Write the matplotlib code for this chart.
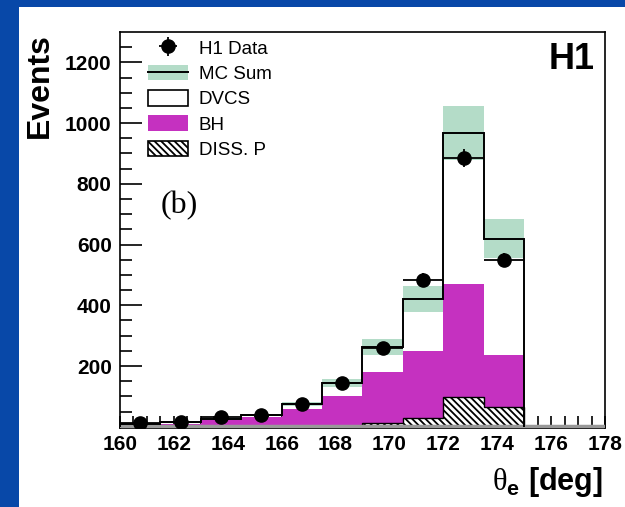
import numpy as np
import matplotlib
matplotlib.use('Agg')
import matplotlib.pyplot as plt
from matplotlib.patches import Patch, Rectangle
from matplotlib.lines import Line2D

plt.rcParams['font.family'] = ['Liberation Sans', 'DejaVu Sans']
plt.rcParams['mathtext.fontset'] = 'custom'
plt.rcParams['mathtext.rm'] = 'Liberation Serif'
plt.rcParams['mathtext.bf'] = 'Liberation Sans:bold'
plt.rcParams['hatch.linewidth'] = 1.3

# theta_e bins [deg]
bin_edges = [160, 161.5, 163, 164.5, 166, 167.5, 169, 170.5, 172, 173.5, 175]
bin_centers = [160.75, 162.25, 163.75, 165.25, 166.75, 168.25, 169.75, 171.25, 172.75, 174.25]

# H1 data
data = [13, 16, 33, 38, 75, 145, 258, 483, 885, 549]
data_err = [4, 4, 6, 6, 9, 12, 16, 22, 30, 23]

# MC
mc_sum = [8, 16, 27, 38, 75, 145, 263, 420, 967, 620]
mc_err = [1, 2, 3, 4, 8, 13, 26, 42, 88, 65]
bh = [3, 10, 22, 33, 57, 100, 167, 220, 373, 173]
diss = [0, 0, 0, 0, 0, 0, 13, 30, 97, 64]

green = '#b4dcc8'
magenta = '#c531c0'

fig = plt.figure(figsize=(6.25, 5.07), dpi=100)
fig.patch.set_facecolor('#0848a8')
fig.patches.append(Rectangle((19 / 625, 0), 1, 1 - 7 / 507, transform=fig.transFigure,
                             facecolor='white', edgecolor='none', zorder=-5))

ax = fig.add_axes([120 / 625, 1 - 428 / 507, 485 / 625, 396 / 507])
ax.set_zorder(2)
ax.patch.set_alpha(0)

edges = np.array(bin_edges)
mc = np.array(mc_sum)
err = np.array(mc_err)
bh_top = np.array(bh) + np.array(diss)

# MC uncertainty band
ax.stairs(mc + err, edges, baseline=mc - err, fill=True, color=green, zorder=1)
# BH (stacked on diss. p)
ax.stairs(bh_top, edges, fill=True, color=magenta, zorder=2)
# proton dissociation
ax.stairs(diss, edges, fill=True, facecolor='white', edgecolor='k', hatch='\\\\\\\\\\',
          linewidth=0, zorder=3)
ax.stairs(diss, edges, color='k', linewidth=1.0, zorder=3)
# bottom gray line
ax.axhline(1, color='#999999', linewidth=2.5, zorder=4)
# MC sum
ax.stairs(mc, edges, baseline=0, color='k', linewidth=1.4, zorder=5)

xerr = [(edges[i + 1] - edges[i]) / 2 for i in range(len(data))]
eb = ax.errorbar(bin_centers, data, yerr=data_err, xerr=xerr, fmt='o', color='k',
                 markersize=9.5, elinewidth=1.3, capsize=0, zorder=6)

ax.set_xlim(160, 178)
ax.set_ylim(-4, 1300)
ax.set_xticks(np.arange(160, 179, 2))
ax.set_xticks(np.arange(160, 178.1, 0.5), minor=True)
ax.set_yticks([200, 400, 600, 800, 1000, 1200])
ax.set_yticks(np.arange(50, 1300, 50), minor=True)
ax.tick_params(axis='both', which='both', direction='in', width=1.2, top=False, right=False)
ax.tick_params(axis='x', which='both', length=9, pad=5)
ax.tick_params(axis='y', which='major', length=16, pad=6)
ax.tick_params(axis='y', which='minor', length=8.5)
for lab in ax.get_xticklabels() + ax.get_yticklabels():
    lab.set_fontsize(15)
    lab.set_fontweight('bold')
for s in ax.spines.values():
    s.set_linewidth(1.2)

handles = [eb,
           (Patch(facecolor=green, edgecolor='none'), Line2D([], [], color='k', linewidth=1.4)),
           Patch(facecolor='white', edgecolor='k', linewidth=1.2),
           Patch(facecolor=magenta, edgecolor='none'),
           Patch(facecolor='white', edgecolor='k', hatch='\\\\\\\\\\', linewidth=1.2)]
labels = ['H1 Data', 'MC Sum', 'DVCS', 'BH', 'DISS. P']
ax.legend(handles, labels, loc='upper left', bbox_to_anchor=(0.035, 1.01), frameon=False,
          fontsize=13.5, handlelength=2.1, handleheight=0.9, labelspacing=0.38,
          handletextpad=0.6, borderaxespad=0.2)

ax.text(0.979, 0.975, 'H1', transform=ax.transAxes, ha='right', va='top',
        fontsize=26, fontweight='bold')
ax.text(161.5, 728, '(b)', ha='left', va='center', fontsize=23, family='Liberation Serif')

fig.text(40 / 625, 1 - 86 / 507, 'Events', rotation=90, ha='center', va='center',
         fontsize=23, fontweight='bold')
fig.text(603 / 625, 1 - 490 / 507, r'$\mathrm{\theta}_{\mathbf{e}}$ [deg]', ha='right',
         va='baseline', fontsize=22, fontweight='bold')

fig.savefig('out.png', dpi=100, facecolor=fig.get_facecolor())
